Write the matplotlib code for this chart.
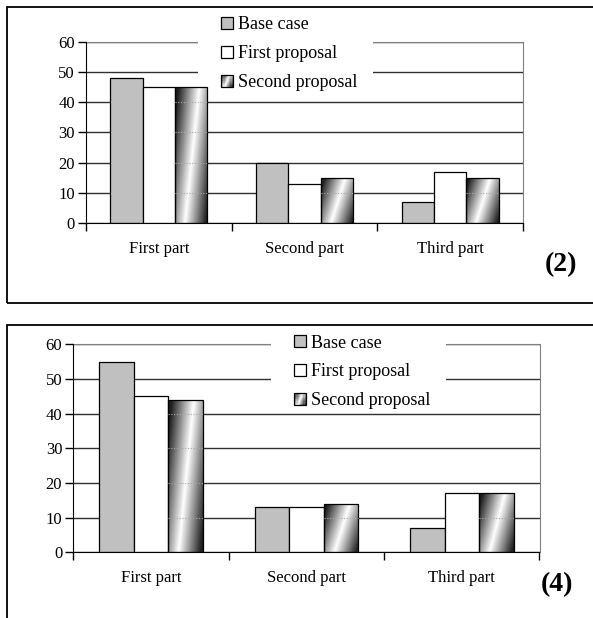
import numpy as np
import matplotlib
matplotlib.use("Agg")
import matplotlib.pyplot as plt
from matplotlib.patches import Rectangle, Patch
from matplotlib.legend_handler import HandlerPatch

plt.rcParams['font.family'] = ['Liberation Serif', 'DejaVu Serif']

# dane do obu wykresów
kategorie = ["First part", "Second part", "Third part"]
serie = ["Base case", "First proposal", "Second proposal"]
wykres2 = [[48, 20, 7], [45, 13, 17], [45, 15, 15]]
wykres4 = [[55, 13, 7], [45, 13, 17], [44, 14, 17]]
poziomy = [0, 10, 20, 30, 40, 50, 60]

W, H = 593, 618


def cien(xn, yn):
    # ukośny gradient: ciemne rogi, jasny pas po przekątnej
    d = xn - (0.3 + 0.45 * yn)
    return 1 - np.minimum(np.abs(d) * 1.35, 0.88)


class GradientHandler(HandlerPatch):
    def create_artists(self, legend, orig_handle, xdescent, ydescent,
                       width, height, fontsize, trans):
        n = 10
        arts = []
        for i in range(n):
            for j in range(n):
                v = float(cien((i + 0.5) / n, (j + 0.5) / n))
                arts.append(Rectangle((-xdescent + i * width / n, -ydescent + j * height / n),
                                      width / n, height / n, facecolor=(v, v, v),
                                      edgecolor='none', transform=trans))
        arts.append(Rectangle((-xdescent, -ydescent), width, height, facecolor='none',
                              edgecolor='black', lw=0.9, transform=trans))
        return arts


def px(x0, y0, x1, y1):
    # prostokąt w pikselach -> współrzędne figury
    return [x0 / W, 1 - y1 / H, (x1 - x0) / W, (y1 - y0) / H]


fig = plt.figure(figsize=(W / 100, H / 100), dpi=100)

# ramki paneli
for (x0, y0, x1, y1) in [(6.5, 7, 700, 302.5), (7, 325, 700, 800)]:
    fig.patches.append(Rectangle((x0 / W, 1 - y1 / H), (x1 - x0) / W, (y1 - y0) / H,
                                 transform=fig.transFigure, facecolor='none',
                                 edgecolor='black', lw=1.3))


def rysuj(ax, dane, leg_x, leg_y, biale, etykieta, et_xy):
    w = 1 / 4.5
    x = np.arange(len(kategorie)) + 0.5
    kolory = ['#c0c0c0', 'white', 'none']
    for k, vals in enumerate(dane):
        bars = ax.bar(x + (k - 1) * w, vals, width=w, color=kolory[k],
                      edgecolor='black', lw=0.9, zorder=3)
        if k == 2:
            yy, xx = np.mgrid[0:1:100j, 0:1:40j]
            img = cien(xx, yy)
            for b, v in zip(bars, vals):
                bx = b.get_x()
                im = ax.imshow(img, extent=(bx, bx + w, 0, v), origin='lower',
                               cmap='gray', vmin=0, vmax=1, aspect='auto',
                               interpolation='bilinear', zorder=2.9)
                im.set_clip_path(b)
                lv = [p for p in poziomy[1:] if p < v]
                ax.hlines(lv, bx, bx + w, colors='#a8a8a8', linestyles=(0, (1, 1.5)),
                          lw=0.8, zorder=3.1)

    ax.set_xlim(0, 3)
    ax.set_ylim(0, 60)
    ax.set_yticks(poziomy)
    ax.set_xticks([0, 1, 2, 3])
    ax.set_xticklabels([])
    ax.set_xticks(x, minor=True)
    ax.set_xticklabels(kategorie, minor=True, fontsize=12)
    ax.tick_params(axis='x', which='major', direction='out', length=6, width=1)
    ax.tick_params(axis='x', which='minor', length=0, pad=13)
    ax.tick_params(axis='y', direction='out', length=6, width=1, labelsize=12, pad=2)
    ax.yaxis.grid(True, color='#303030', lw=1.0)
    ax.set_axisbelow(True)
    ax.spines['top'].set_color('#808080')
    ax.spines['right'].set_color('#808080')
    for s in ['left', 'bottom']:
        ax.spines[s].set_color('black')
        ax.spines[s].set_zorder(4)

    # białe tło pod legendą przerywa linie siatki
    fig.patches.append(Rectangle((biale[0] / W, 1 - biale[3] / H),
                                 (biale[2] - biale[0]) / W, (biale[3] - biale[1]) / H,
                                 transform=fig.transFigure, facecolor='white',
                                 edgecolor='none', zorder=10))

    uchwyty = [Patch(facecolor='#c0c0c0', edgecolor='black', lw=0.9),
               Patch(facecolor='white', edgecolor='black', lw=0.9),
               Patch(facecolor='white', edgecolor='black', lw=0.9)]
    leg = fig.legend(uchwyty, serie, loc='center left',
                     bbox_to_anchor=(leg_x / W, 1 - leg_y / H),
                     bbox_transform=fig.transFigure, frameon=False,
                     prop={'family': 'Liberation Serif', 'size': 13},
                     handlelength=0.65, handleheight=0.65, handletextpad=0.3,
                     labelspacing=0.66, borderpad=0, borderaxespad=0,
                     handler_map={uchwyty[2]: GradientHandler()})
    leg.set_zorder(11)

    fig.text(et_xy[0] / W, 1 - et_xy[1] / H, etykieta, fontsize=20,
             fontweight='bold', ha='center', va='center')


ax1 = fig.add_axes(px(86, 41.7, 523, 223.3))
rysuj(ax1, wykres2, 221, 53.5, (198, 34, 372.5, 79), "(2)", (561, 265))

ax2 = fig.add_axes(px(73.3, 344.3, 539.5, 552.3))
rysuj(ax2, wykres4, 294, 372, (271, 337, 445.5, 386), "(4)", (557, 585))

fig.savefig("out.png", dpi=100)
